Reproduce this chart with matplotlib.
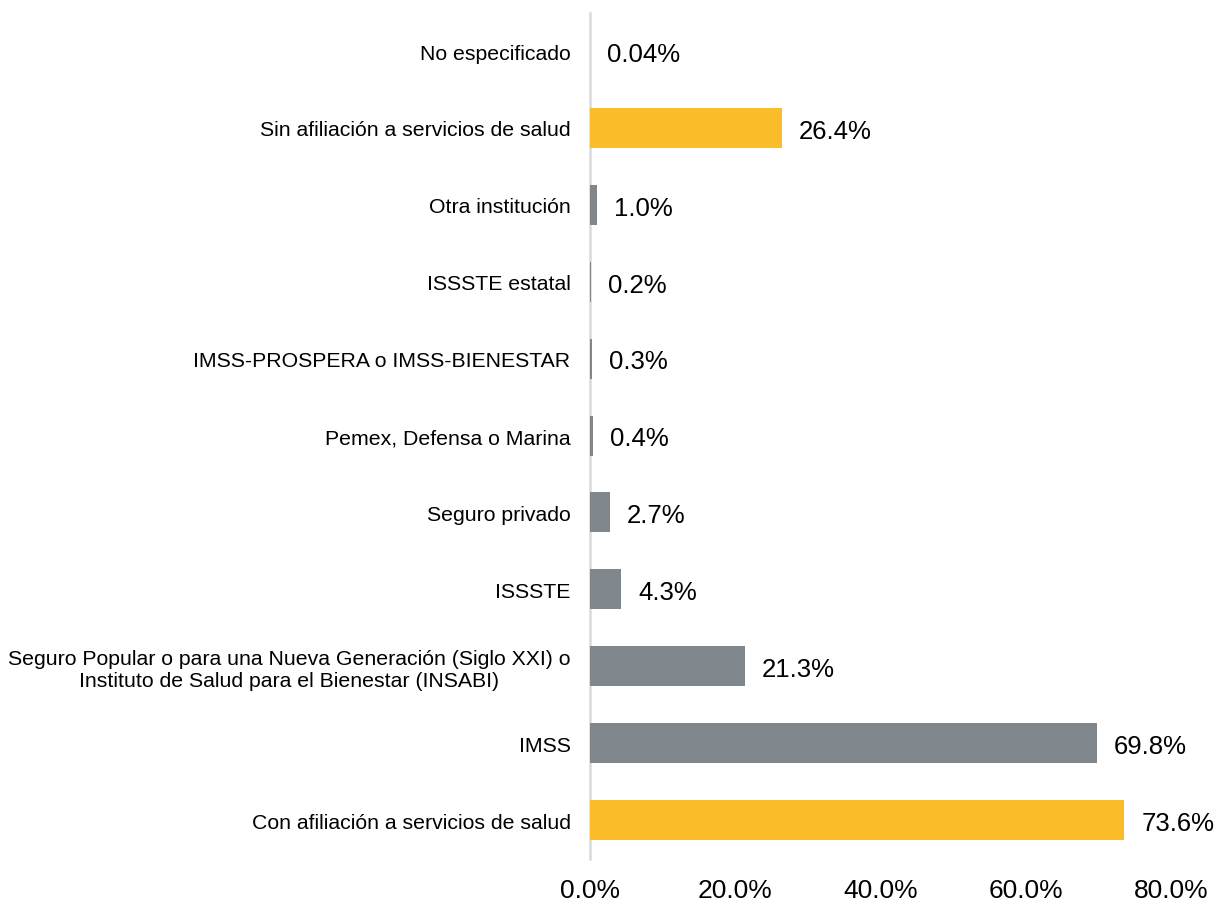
import matplotlib
matplotlib.use("Agg")
import matplotlib.pyplot as plt
from matplotlib.ticker import FuncFormatter

plt.rcParams['font.family'] = ['Liberation Sans', 'DejaVu Sans']

categories = [
    "Con afiliación a servicios de salud",
    "IMSS",
    "Seguro Popular o para una Nueva Generación (Siglo XXI) o\nInstituto de Salud para el Bienestar (INSABI)",
    "ISSSTE",
    "Seguro privado",
    "Pemex, Defensa o Marina",
    "IMSS-PROSPERA o IMSS-BIENESTAR",
    "ISSSTE estatal",
    "Otra institución",
    "Sin afiliación a servicios de salud",
    "No especificado",
]
values = [73.6, 69.8, 21.3, 4.3, 2.7, 0.4, 0.3, 0.2, 1.0, 26.4, 0.04]
labels = ["73.6%", "69.8%", "21.3%", "4.3%", "2.7%", "0.4%", "0.3%", "0.2%", "1.0%", "26.4%", "0.04%"]
highlight = [True, False, False, False, False, False, False, False, False, True, True]
xticks = [0, 20, 40, 60, 80]

YELLOW = "#FBBC2A"
GRAY = "#7F878C"

fig = plt.figure(figsize=(12.2, 9.04), dpi=100)
ax = fig.add_axes([0.4836, 0.0492, 0.9598 - 0.4836, 0.985 - 0.0492])

ypos = list(range(len(categories)))
colors = [YELLOW if h else GRAY for h in highlight]
ax.barh(ypos, values, height=0.52, color=colors, zorder=3)

for y, v, lab in zip(ypos, values, labels):
    ax.annotate(lab, xy=(v, y), xytext=(12, -2), textcoords="offset points",
                va="center", ha="left", fontsize=18.5, color="black")

ax.set_xlim(0, 80)
ax.set_ylim(-0.5, len(categories) - 0.5)
ax.set_yticks(ypos)
ax.set_yticklabels(categories, fontsize=15.3, ha="right", multialignment="center")
ax.set_xticks(xticks)
ax.xaxis.set_major_formatter(FuncFormatter(lambda x, p: f"{x:.1f}%"))
ax.tick_params(axis="x", labelsize=19, length=0, pad=14)
ax.tick_params(axis="y", length=0, pad=14)

for s in ["top", "right", "bottom"]:
    ax.spines[s].set_visible(False)
ax.spines["left"].set_color("#D9D9D9")
ax.spines["left"].set_linewidth(1.8)

fig.savefig("out.png", dpi=100, facecolor="white")
